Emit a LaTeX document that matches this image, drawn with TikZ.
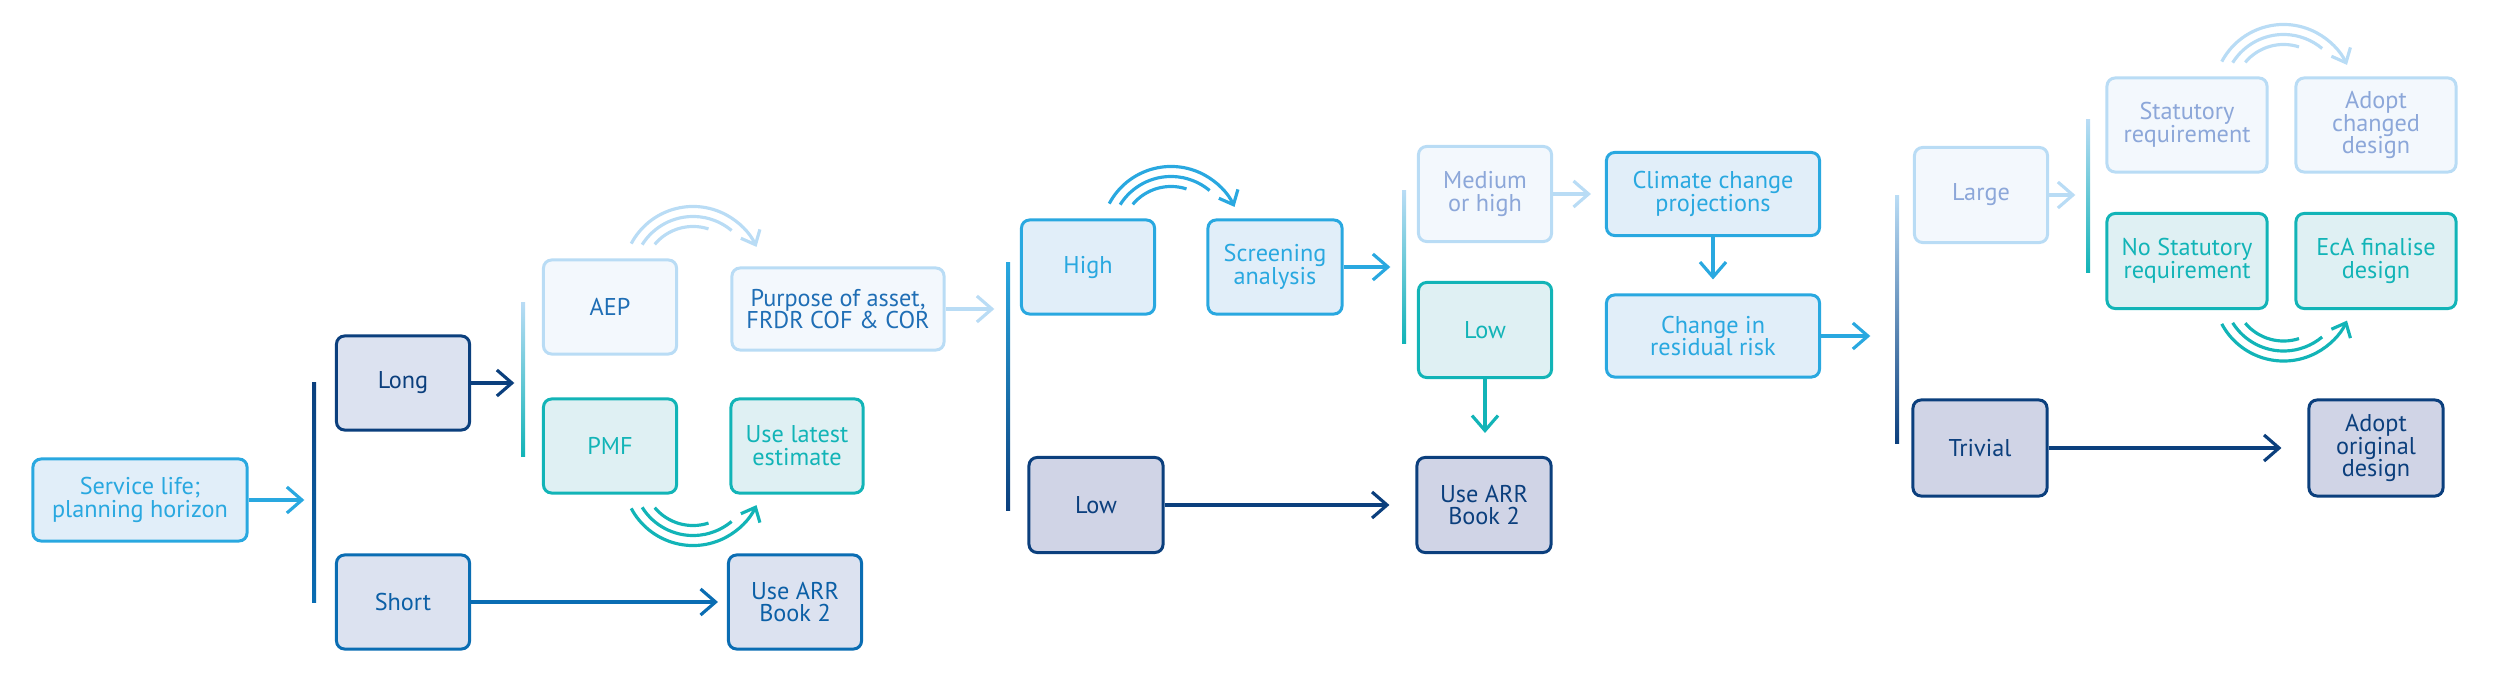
\documentclass[tikz,border=0pt]{standalone}
\usepackage{fontspec}
\setmainfont{PT Sans}
\usetikzlibrary{arrows.meta,calc}
\definecolor{CCCyan}{HTML}{29A8E0}
\definecolor{CCCyanFill}{HTML}{E1EEF9}
\definecolor{CCNavy}{HTML}{0B3F7D}
\definecolor{CCNavyFill}{HTML}{DCE2F0}
\definecolor{CCNavyDeep}{HTML}{D0D4E6}
\definecolor{CCMid}{HTML}{0A6DB3}
\definecolor{CCMidText}{HTML}{0B5FA6}
\definecolor{CCPale}{HTML}{B9DCF5}
\definecolor{CCPaleFill}{HTML}{F3F8FD}
\definecolor{CCPaleText}{HTML}{8CA7D9}
\definecolor{CCPaleInk}{HTML}{1F6EB5}
\definecolor{CCTeal}{HTML}{12B4B7}
\definecolor{CCTealFill}{HTML}{DFF0F3}
\tikzset{
  box/.style={draw,line width=0.85pt,rounded corners=2.3pt,inner sep=0pt,align=center,
              minimum width=1.33cm,minimum height=0.94cm,
              font=\fontsize{6.9}{6.5}\selectfont},
  boxcyan/.style={box,draw=CCCyan,fill=CCCyanFill,text=CCCyan},
  boxnavy/.style={box,draw=CCNavy,fill=CCNavyDeep,text=CCNavy},
  boxnavylight/.style={box,draw=CCNavy,fill=CCNavyFill,text=CCNavy},
  boxmid/.style={box,draw=CCMid,fill=CCNavyFill,text=CCMidText},
  boxpale/.style={box,draw=CCPale,fill=CCPaleFill,text=CCPaleText},
  boxpaleink/.style={boxpale,text=CCPaleInk},
  boxteal/.style={box,draw=CCTeal,fill=CCTealFill,text=CCTeal},
  wide/.style={minimum width=2.13cm,minimum height=0.82cm},
  mid/.style={minimum width=1.6cm},
  flow/.style={-{Straight Barb[length=1.5mm,width=2.6mm]},line width=0.9pt},
  flowcyan/.style={flow,CCCyan},
  flownavy/.style={flow,CCNavy},
  flowmid/.style={flow,CCMid},
  flowpale/.style={flow,CCPale},
  flowteal/.style={flow,CCTeal},
  bar/.style={inner sep=0pt,minimum width=0.04cm,rectangle},
}
\newcommand{\swoosh}[3][1]{%
  \begin{scope}[shift={#2},yscale=#1]
    \draw[#3,line width=0.9pt,-{Straight Barb[length=1.2mm,width=2.1mm]}]
      (152:70) arc[start angle=152,end angle=25,radius=70];
    \draw[#3,line width=0.9pt] (148:60) arc[start angle=148,end angle=50,radius=60];
    \draw[#3,line width=0.9pt] (140:50) arc[start angle=140,end angle=72,radius=50];
  \end{scope}%
}

\begin{document}
\begin{tikzpicture}[x=0.01cm,y=0.01cm]
    \useasboundingbox (0,0) rectangle (2500,-679);

    % service life
    \node[boxcyan,wide,minimum width=2.14cm] (svc) at (140,-500) {Service life;\\planning horizon};
    \node[bar,top color=CCNavy,bottom color=CCMid,minimum height=2.19cm] (bar1) at (314,-492.5) {};
    \draw[flowcyan,shorten >=0.07cm] (svc.east) -- (svc.east -| bar1.west);
    \node[boxnavylight] (long) at (403,-383) {Long};
    \node[boxmid] (short) at (403,-602) {Short};
    \node[boxmid] (arr1) at (795,-602) {Use ARR\\Book 2};
    \draw[flowmid,shorten >=0.09cm] (short.east) -- (short.east -| arr1.west);

    % AEP / PMF
    \node[bar,top color=CCPale,bottom color=CCTeal,minimum height=1.53cm] (bar2) at (523,-379.5) {};
    \draw[flownavy,shorten >=0.06cm] (long.east) -- (long.east -| bar2.west);
    \node[boxpaleink] (aep) at (610,-307) {AEP};
    \node[boxteal] (pmf) at (610,-446) {PMF};
    \node[boxpaleink,wide,minimum width=2.12cm] (purpose) at (838,-309) {Purpose of asset,\\FRDR COF \& COR};
    \node[boxteal,minimum width=1.32cm] (latest) at (797,-446) {Use latest\\estimate};
    \swoosh{($(aep.north east)+(15,-18)$)}{CCPale}
    \swoosh[-1]{($(pmf.south east)+(15,19)$)}{CCTeal}

    % consequence
    \node[bar,top color=CCCyan,bottom color=CCNavy,minimum height=2.47cm] (bar3) at (1008,-386.5) {};
    \draw[flowpale,shorten >=0.11cm] (purpose.east) -- (purpose.east -| bar3.west);
    \node[boxcyan] (high) at (1088,-267) {High};
    \node[boxcyan,minimum width=1.34cm] (screen) at (1275,-267) {Screening\\analysis};
    \swoosh{($(high.north east)+(15,-18)$)}{CCCyan}
    \node[boxnavy,minimum width=1.34cm,minimum height=0.95cm] (lownavy) at (1096,-505) {Low};

    % screening result
    \node[bar,top color=CCPale,bottom color=CCTeal,minimum height=1.52cm] (bar4) at (1404,-267) {};
    \draw[flowcyan,shorten >=0.11cm] (screen.east) -- (screen.east -| bar4.west);
    \node[boxpale,minimum height=0.95cm] (medhigh) at (1485,-194) {Medium\\or high};
    \node[boxteal,minimum height=0.95cm] (lowteal) at (1485,-330) {Low};
    \node[boxnavy,minimum width=1.34cm,minimum height=0.95cm] (arr2) at (1484,-505) {Use ARR\\Book 2};
    \draw[flowteal,shorten >=0.23cm] (lowteal.south) -- (lowteal.south |- arr2.north);
    \draw[flownavy,shorten >=0.26cm] (lownavy.east) -- (lownavy.east -| arr2.west);

    % projections
    \node[boxcyan,wide,minimum height=0.83cm] (climate) at (1713,-194) {Climate change\\projections};
    \node[boxcyan,wide] (change) at (1713,-336) {Change in\\residual risk};
    \draw[flowpale,shorten >=0.14cm] (medhigh.east) -- (medhigh.east -| climate.west);
    \draw[flowcyan,shorten >=0.14cm] (climate.south) -- (change.north);

    % size of change
    \node[bar,top color=CCPale,bottom color=CCNavy,minimum height=2.47cm] (bar5) at (1897,-319.5) {};
    \draw[flowcyan,shorten >=0.24cm] (change.east) -- (change.east -| bar5.west);
    \node[boxpale,minimum height=0.95cm] (large) at (1981,-195) {Large};
    \node[boxnavy,minimum width=1.34cm,minimum height=0.96cm] (trivial) at (1980,-448) {Trivial};
    \node[boxnavy,minimum width=1.34cm,minimum height=0.96cm] (adoptor) at (2376,-448) {Adopt\\original\\design};
    \draw[flownavy,shorten >=0.26cm] (trivial.east) -- (trivial.east -| adoptor.west);

    % statutory requirement
    \node[bar,top color=CCPale,bottom color=CCTeal,minimum height=1.52cm] (bar6) at (2088,-196) {};
    \draw[flowpale,shorten >=0.1cm] (large.east) -- (large.east -| bar6.west);
    \node[boxpale,mid] (stat) at (2187,-125) {Statutory\\requirement};
    \node[boxpale,mid] (adoptch) at (2376,-125) {Adopt\\changed\\design};
    \node[boxteal,mid,minimum height=0.95cm] (nostat) at (2187,-261) {No Statutory\\requirement};
    \node[boxteal,mid,minimum height=0.95cm] (eca) at (2376,-261) {EcA finalise\\design};
    \swoosh{($(stat.north east)+(15,-18)$)}{CCPale}
    \swoosh[-1]{($(nostat.south east)+(15,19)$)}{CCTeal}
\end{tikzpicture}
\end{document}
